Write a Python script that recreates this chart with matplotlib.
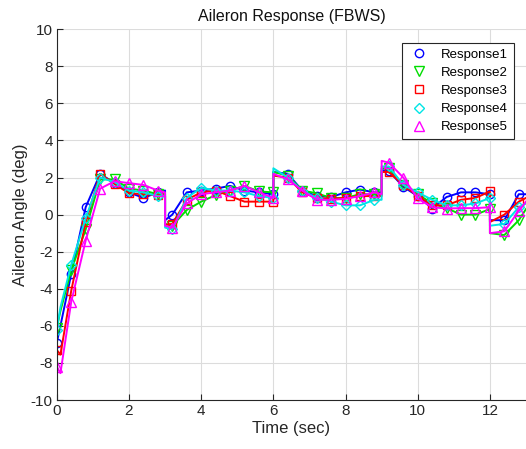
import numpy as np
import matplotlib.pyplot as plt

plt.rcParams['font.family'] = ['Liberation Sans', 'DejaVu Sans']
plt.rcParams['axes.unicode_minus'] = False

# sample times (duplicates mark the step changes at 3, 6, 9 and 12 s)
t = [0, 0.1, 0.4, 0.8, 1.2, 1.6, 2.0, 2.4, 2.8, 3.0, 3.0, 3.2, 3.6, 4.0, 4.4,
     4.8, 5.2, 5.6, 6.0, 6.0, 6.4, 6.8, 7.2, 7.6, 8.0, 8.4, 8.8, 9.0, 9.0,
     9.2, 9.6, 10.0, 10.4, 10.8, 11.2, 11.6, 12.0, 12.0, 12.4, 12.8, 13.0]

response1 = [-6.9, -6.0, -3.2, 0.4, 2.2, 1.7, 1.2, 0.9, 1.2, 1.3, -0.3, 0.0, 1.2,
             1.3, 1.4, 1.55, 1.3, 1.2, 1.1, 2.3, 2.2, 1.3, 1.0, 0.95, 1.2, 1.35,
             1.2, 1.2, 2.4, 2.35, 1.5, 1.0, 0.33, 0.95, 1.2, 1.2, 1.1, -0.3, -0.3,
             1.1, 1.1]
response2 = [-6.1, -5.2, -3.0, -0.8, 1.9, 1.9, 1.4, 1.3, 1.1, 1.1, -0.5, -0.6, 0.25,
             0.7, 1.05, 1.3, 1.55, 1.25, 1.2, 2.3, 2.1, 1.3, 1.15, 0.9, 0.9, 1.1,
             1.1, 1.1, 2.5, 2.5, 1.6, 1.1, 0.6, 0.35, 0.0, 0.0, 0.3, -1.0, -1.1,
             -0.3, 0.3]
response3 = [-7.3, -7.55, -4.1, -0.4, 2.2, 1.65, 1.15, 1.1, 1.05, 1.0, -0.55, -0.5, 0.8,
             1.2, 1.3, 1.0, 0.7, 0.7, 0.7, 2.1, 2.0, 1.2, 0.9, 0.85, 0.9, 1.0,
             1.0, 1.0, 2.3, 2.3, 1.6, 1.0, 0.5, 0.5, 0.8, 0.9, 1.25, -0.4, 0.0,
             0.7, 0.9]
response4 = [-6.2, -5.0, -2.7, -0.2, 2.0, 1.75, 1.3, 1.2, 1.0, 1.0, -0.7, -0.8, 0.9,
             1.45, 1.3, 1.3, 1.2, 1.0, 0.9, 2.5, 2.0, 1.3, 0.9, 0.7, 0.5, 0.5,
             0.8, 0.8, 2.6, 2.6, 1.6, 1.2, 0.8, 0.5, 0.5, 0.6, 0.9, -0.6, -0.5,
             0.4, 0.6]
response5 = [-8.2, -8.55, -4.7, -1.4, 1.4, 1.8, 1.7, 1.6, 1.3, 1.2, -0.6, -0.7, 0.6,
             1.1, 1.2, 1.3, 1.55, 1.2, 0.9, 2.2, 1.9, 1.3, 0.8, 0.8, 0.85, 1.0,
             1.2, 1.1, 2.9, 2.8, 2.0, 0.87, 0.4, 0.33, 0.35, 0.35, 0.4, -1.0, -0.9,
             0.2, 0.7]

labels = ['Response1', 'Response2', 'Response3', 'Response4', 'Response5']
colors = ['#0000ff', '#00dd00', '#ff0000', '#00e5e5', '#ff00ff']
markers = ['o', 'v', 's', 'D', '^']
msizes = [6, 6.5, 5.2, 5.2, 6.5]

# markers every 0.4 s (first sample of each step pair)
mark_idx = []
for i, ti in enumerate(t):
    if abs(ti / 0.4 - round(ti / 0.4)) < 1e-6 and (i == 0 or t[i - 1] != ti):
        mark_idx.append(i)

fig = plt.figure(figsize=(5.26, 4.49), dpi=100)
ax = fig.add_axes([0.108, 0.109, 0.892, 0.826])

series = [response1, response2, response3, response4, response5]
for y, lab, c, m, ms in zip(series, labels, colors, markers, msizes):
    ax.plot(t, y, color=c, lw=1.4)
    ax.plot(t, y, color=c, lw=0, marker=m, ms=ms, mfc='none', mec=c,
            mew=1.0, markevery=mark_idx, label=lab)

ax.set_xlim(0, 13)
ax.set_ylim(-10, 10)
ax.set_xticks([0, 2, 4, 6, 8, 10, 12])
ax.set_yticks(np.arange(-10, 11, 2))
ax.grid(True, color='#dcdcdc', lw=0.8)
ax.set_axisbelow(True)
for s in ['top', 'right']:
    ax.spines[s].set_visible(False)
for s in ['left', 'bottom']:
    ax.spines[s].set_color('#262626')
    ax.spines[s].set_linewidth(0.8)
ax.tick_params(direction='in', length=4, width=0.8, colors='#262626',
               labelsize=11, pad=3)

ax.set_title('Aileron Response (FBWS)', fontsize=11.5, color='#111111', pad=6)
ax.set_xlabel('Time (sec)', fontsize=12, color='#262626', labelpad=2)
ax.set_ylabel('Aileron Angle (deg)', fontsize=12, color='#262626', labelpad=2)

leg = ax.legend(loc='upper right', bbox_to_anchor=(0.975, 0.964), fontsize=9.5,
                fancybox=False, framealpha=1, edgecolor='#262626',
                handlelength=1.6, handletextpad=0.9, borderpad=0.45,
                labelspacing=0.45, borderaxespad=0)
leg.get_frame().set_linewidth(0.8)

fig.savefig('out.png', dpi=100)
